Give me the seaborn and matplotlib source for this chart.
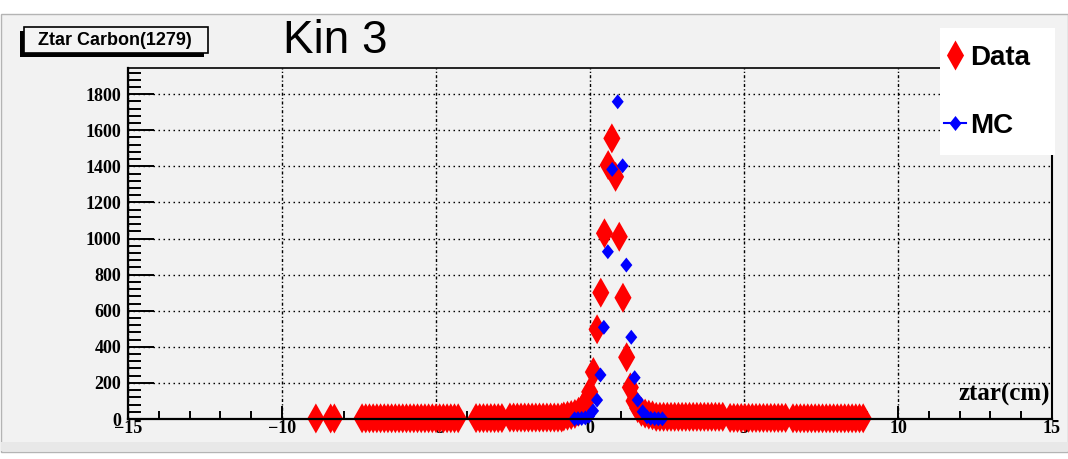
import numpy as np
import pandas as pd
import seaborn as sns
from matplotlib import pyplot as plt
from matplotlib.lines import Line2D
from matplotlib.patches import Rectangle
from matplotlib.path import Path
from matplotlib.font_manager import FontProperties

# Data histogram (red), bins near the peak
data_z_peak = [-0.85, -0.73, -0.61, -0.49, -0.37, -0.25, -0.13, -0.01, 0.11, 0.23,
               0.35, 0.47, 0.59, 0.71, 0.83, 0.95, 1.07, 1.19, 1.31, 1.43,
               1.55, 1.67, 1.79, 1.91, 2.03]
data_counts_peak = [14, 18, 22, 28, 40, 60, 95, 150, 260, 497,
                    700, 1029, 1407, 1555, 1342, 1010, 672, 342, 175, 100,
                    60, 40, 30, 24, 20]
# flat tails: (first bin, last bin, counts per bin), 0.12 cm bins
data_tail_segments = [(-8.90, -8.90, 3), (-8.42, -8.30, 3), (-7.40, -4.34, 4),
                      (-3.70, -2.84, 5), (-2.60, -0.97, 8), (2.15, 4.31, 12),
                      (4.55, 6.35, 6), (6.59, 8.81, 4)]

# MC histogram (blue)
mc_z = [-0.50, -0.39, -0.27, -0.15, -0.03, 0.10, 0.23, 0.34, 0.45, 0.58, 0.72, 0.90,
        1.06, 1.18, 1.34, 1.45, 1.55, 1.71, 1.85, 1.97, 2.10, 2.22, 2.35]
mc_counts = [1, 2, 3, 6, 15, 45, 105, 244, 508, 927, 1383, 1758,
             1403, 853, 453, 229, 105, 40, 12, 4, 2, 1, 1]

y_ticks = [0, 200, 400, 600, 800, 1000, 1200, 1400, 1600, 1800]
x_ticks = [-15, -10, -5, 0, 5, 10, 15]

tail_z, tail_n = [], []
for a, b, n in data_tail_segments:
    z = np.round(np.arange(a, b + 0.06, 0.12), 2)
    tail_z += list(z)
    tail_n += [n] * len(z)
data = pd.DataFrame({'z': tail_z + data_z_peak, 'n': tail_n + data_counts_peak})
mc = pd.DataFrame({'z': mc_z, 'n': mc_counts})

W, H = 1068, 459
fx = lambda x: x / W
fy = lambda y: 1 - y / H

fig = plt.figure(figsize=(W / 100, H / 100), dpi=100, facecolor='white')
fig.add_artist(Rectangle((fx(1), fy(452)), (W - 1) / W, (452 - 14) / H, transform=fig.transFigure,
                         fc='#f2f2f2', ec='#b4b4b4', lw=1, zorder=-2))
fig.add_artist(Rectangle((fx(1), fy(451)), (W - 1) / W, 9 / H, transform=fig.transFigure,
                         fc='#e8e8e8', ec='none', zorder=-1))

ax = fig.add_axes([fx(128), fy(419), 924 / W, 351 / H])
ax.set_facecolor('#f2f2f2')

red_marker = Path([(0, 1), (0.57, 0), (0, -1), (-0.57, 0), (0, 1)])
blue_marker = Path([(0, 1), (0.8, 0), (0, -1), (-0.8, 0), (0, 1)])

sns.scatterplot(data=data, x='z', y='n', marker=red_marker, s=21.6 ** 2, color='#ff0000',
                edgecolor='none', linewidth=0, ax=ax, zorder=3, clip_on=False)
sns.scatterplot(data=mc, x='z', y='n', marker=blue_marker, s=10.8 ** 2, color='#0000ff',
                edgecolor='none', linewidth=0, ax=ax, zorder=3.5, clip_on=False)

ax.set_xlim(-15, 15)
ax.set_ylim(0, 1945)
ax.set_xticks(x_ticks)
ax.set_xticks(np.arange(-15, 16, 1), minor=True)
ax.set_yticks(y_ticks)
ax.set_yticks(np.arange(0, 1945, 40), minor=True)

ax.grid(axis='y', which='major', color='black', lw=1.0, linestyle=(0, (1.1, 2.5)))
ax.grid(axis='x', which='major', color='black', lw=1.0, linestyle=(0, (2.2, 1.6, 0.9, 1.6)))

ax.tick_params(axis='y', which='major', direction='in', length=19, width=1.4, pad=5,
               labelsize=13, labelfontfamily='Liberation Serif')
ax.tick_params(axis='y', which='minor', direction='in', length=9.5, width=1.4)
ax.tick_params(axis='x', which='major', direction='in', length=9.4, width=1.4, pad=1,
               labelsize=13, labelfontfamily='Liberation Serif')
ax.tick_params(axis='x', which='minor', direction='in', length=5.8, width=1.4)
plt.setp(ax.get_xticklabels() + ax.get_yticklabels(), fontweight='bold')

for side, lw in [('left', 1.6), ('bottom', 1.6), ('top', 1.2), ('right', 1.5)]:
    ax.spines[side].set_linewidth(lw)
    ax.spines[side].set_zorder(4)

ax.set_xlabel('ztar(cm)', fontsize=18, fontweight='bold', family='Liberation Serif',
              ha='right', va='center')
ax.xaxis.set_label_coords(0.998, 0.07)
ax.set_ylabel('')

# title pave with shadow
fig.add_artist(Rectangle((fx(20), fy(57)), 184 / W, 26 / H, transform=fig.transFigure,
                         fc='black', ec='black', lw=0, zorder=1))
fig.add_artist(Rectangle((fx(24), fy(53)), 184 / W, 26 / H, transform=fig.transFigure,
                         fc='#f4f4f4', ec='black', lw=1.2, zorder=1.1))
fig.text(fx(115), fy(40.5), 'Ztar Carbon(1279)', ha='center', va='center', fontsize=13,
         fontweight='bold', family='Liberation Sans', zorder=3)
fig.text(fx(283), fy(53), 'Kin 3', ha='left', va='baseline', fontsize=33,
         family='Liberation Sans', zorder=3)

# legend box
fig.add_artist(Rectangle((fx(940), fy(155)), 115 / W, 127 / H, transform=fig.transFigure,
                         fc='white', ec='none', zorder=2))
handles = [Line2D([], [], marker=red_marker, markersize=21.6, color='#ff0000', linestyle='none',
                  markeredgewidth=0),
           Line2D([], [], marker=blue_marker, markersize=10.8, color='#0000ff', lw=1.5,
                  markeredgewidth=0)]
fig.legend(handles, ['Data', 'MC'], loc='upper left', bbox_to_anchor=(fx(944), fy(45)),
           frameon=False, borderpad=0, borderaxespad=0, handlelength=0.8, handletextpad=0.15,
           labelspacing=1.5, prop=FontProperties(family='Liberation Sans', weight='bold', size=20))

fig.savefig('out.png', dpi=100)
